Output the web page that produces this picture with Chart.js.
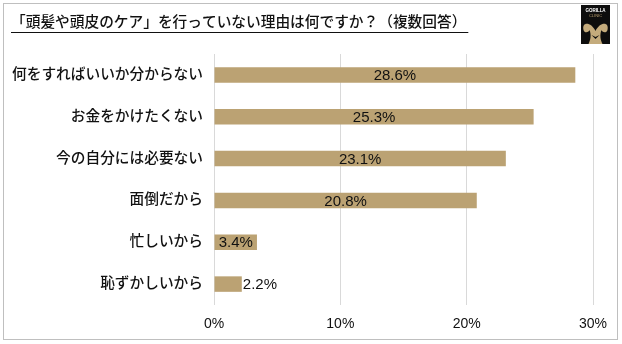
<!DOCTYPE html>
<html><head><meta charset="utf-8">
<script src="https://cdn.jsdelivr.net/npm/chart.js@4/dist/chart.umd.min.js"></script>
<style>html,body{margin:0;padding:0;background:#fff}#wrap{position:relative;width:622px;height:344px}</style>
</head><body><div id="wrap"><canvas id="c" width="622" height="344"></canvas></div>
<script>
const titleText = '「頭髪や頭皮のケア」を行っていない理由は何ですか？（複数回答）';
const categories = ['何をすればいいか分からない','お金をかけたくない','今の自分には必要ない','面倒だから','忙しいから','恥ずかしいから'];
const values = [28.6, 25.3, 23.1, 20.8, 3.4, 2.2];
const xTickValues = [0, 10, 20, 30];
const logoTop = 'GORILLA';
const logoBottom = 'CLINIC';

const FONT = '"Liberation Sans","Noto Sans CJK JP",sans-serif';

const frame = {
  id: 'frame',
  beforeDraw(chart) {
    const ctx = chart.ctx;
    ctx.save();
    ctx.fillStyle = '#fff';
    ctx.fillRect(0, 0, chart.width, chart.height);
    ctx.strokeStyle = '#bfbfbf';
    ctx.lineWidth = 1;
    ctx.strokeRect(3.5, 3.5, 614, 336);
    ctx.restore();
  },
  afterDraw(chart) {
    const ctx = chart.ctx;
    ctx.save();
    // title
    ctx.font = '500 14.7px ' + FONT;
    ctx.fillStyle = '#111';
    ctx.textAlign = 'left';
    ctx.textBaseline = 'middle';
    const tx = 11, ty = 23;
    ctx.fillText(titleText, tx, ty);
    const tw = ctx.measureText(titleText).width;
    ctx.strokeStyle = '#111';
    ctx.lineWidth = 1;
    ctx.beginPath();
    ctx.moveTo(tx, 32.5);
    ctx.lineTo(tx + tw + 2, 32.5);
    ctx.stroke();
    // logo
    const lx = 581, ly = 5, lw = 29, lh = 39;
    ctx.fillStyle = '#0d0d0d';
    ctx.fillRect(lx, ly, lw, lh);
    ctx.fillStyle = '#ffffff';
    ctx.textAlign = 'center';
    ctx.font = 'bold 4.5px "Liberation Sans"';
    ctx.fillText(logoTop, lx + lw / 2, ly + 6);
    ctx.fillStyle = '#b89f6f';
    ctx.font = '4px "Liberation Sans"';
    ctx.fillText(logoBottom, lx + lw / 2, ly + 11);
    ctx.fillStyle = '#c4ab7c';
    const cx = lx + lw / 2;
    ctx.beginPath();
    ctx.moveTo(cx, ly + 26);
    ctx.bezierCurveTo(cx - 4, ly + 17, cx - 14, ly + 16, cx - 12, ly + 25);
    ctx.bezierCurveTo(cx - 11, ly + 29, cx - 6, ly + 27, cx - 6, ly + 25);
    ctx.bezierCurveTo(cx - 4, ly + 30, cx - 5, ly + 35, cx - 7, ly + 39);
    ctx.lineTo(cx + 7, ly + 39);
    ctx.bezierCurveTo(cx + 5, ly + 35, cx + 4, ly + 30, cx + 6, ly + 25);
    ctx.bezierCurveTo(cx + 6, ly + 27, cx + 11, ly + 29, cx + 12, ly + 25);
    ctx.bezierCurveTo(cx + 14, ly + 16, cx + 4, ly + 17, cx, ly + 26);
    ctx.fill();
    ctx.fillStyle = '#0d0d0d';
    ctx.beginPath();
    ctx.moveTo(cx - 4, ly + 30);
    ctx.lineTo(cx, ly + 34);
    ctx.lineTo(cx + 4, ly + 30);
    ctx.lineTo(cx, ly + 32);
    ctx.closePath();
    ctx.fill();
    ctx.restore();
  }
};

const dataLabels = {
  id: 'dataLabels',
  afterDatasetsDraw(chart) {
    const ctx = chart.ctx;
    const meta = chart.getDatasetMeta(0);
    ctx.save();
    ctx.font = '15px ' + FONT;
    ctx.fillStyle = '#111';
    ctx.textBaseline = 'middle';
    meta.data.forEach((bar, i) => {
      const txt = values[i].toFixed(1) + '%';
      const w = ctx.measureText(txt).width;
      const bw = bar.x - bar.base;
      if (bw > w + 4) {
        ctx.textAlign = 'center';
        ctx.fillText(txt, (bar.x + bar.base) / 2, bar.y + 1);
      } else {
        ctx.textAlign = 'left';
        ctx.fillText(txt, bar.x + 1, bar.y + 1);
      }
    });
    ctx.restore();
  }
};

new Chart(document.getElementById('c'), {
  type: 'bar',
  data: {
    labels: categories,
    datasets: [{
      data: values,
      backgroundColor: '#bba273',
      borderWidth: 0,
      barPercentage: 0.37,
      categoryPercentage: 1
    }]
  },
  options: {
    indexAxis: 'y',
    responsive: false,
    animation: false,
    devicePixelRatio: 1,
    layout: { padding: { left: 0, right: 29, top: 54, bottom: 0 } },
    plugins: { legend: { display: false }, tooltip: { enabled: false }, title: { display: false } },
    scales: {
      x: {
        min: 0, max: 30,
        afterBuildTicks(scale) { scale.ticks = xTickValues.map(v => ({ value: v })); },
        afterFit(scale) { scale.height = 39; },
        grid: { color: '#d9d9d9', drawTicks: false },
        border: { display: false },
        ticks: {
          padding: 11,
          color: '#111',
          font: { family: FONT, size: 14 },
          callback: v => v + '%'
        }
      },
      y: {
        afterFit(scale) { scale.width = 214; },
        grid: { display: false, drawTicks: false },
        border: { display: false },
        ticks: {
          padding: 11,
          color: '#111',
          font: { family: FONT, size: 14.7, weight: '500' }
        }
      }
    }
  },
  plugins: [frame, dataLabels]
});
</script>
</body></html>
